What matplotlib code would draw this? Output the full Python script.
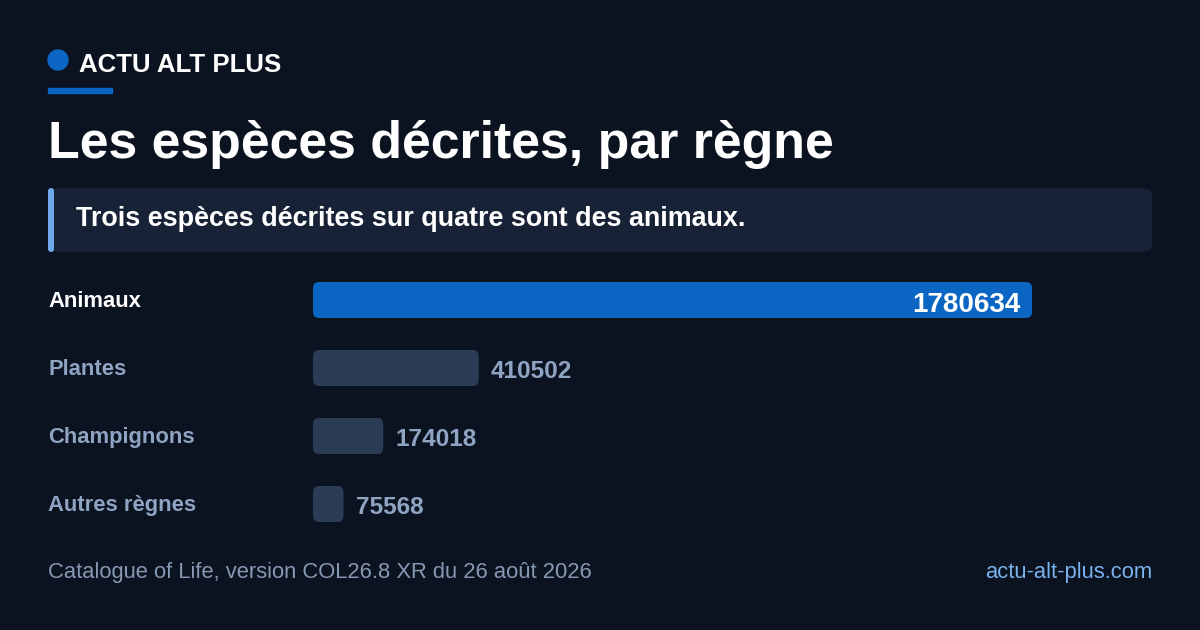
import matplotlib
matplotlib.use("Agg")
import matplotlib.pyplot as plt
from matplotlib.patches import FancyBboxPatch, Circle, Rectangle
from matplotlib.transforms import blended_transform_factory, offset_copy

plt.rcParams['font.family'] = ['Liberation Sans', 'DejaVu Sans']

# data
categories = ["Animaux", "Plantes", "Champignons", "Autres règnes"]
values = [1780634, 410502, 174018, 75568]
highlight = "Animaux"

title = "Les espèces décrites, par règne"
subtitle = "Trois espèces décrites sur quatre sont des animaux."
brand = "ACTU ALT PLUS"
source = "Catalogue of Life, version COL26.8 XR du 26 août 2026"
site = "actu-alt-plus.com"

BG = "#0b1220"
BOX = "#172236"
ACCENT = "#6fa9ec"
BLUE = "#0b66c3"
GREY_BAR = "#2c3c55"
GREY_TXT = "#8ea4c2"
FOOT_TXT = "#8798b2"
LINK = "#7ab2ee"

W, H = 1200, 630
fig = plt.figure(figsize=(12, 6.3), dpi=100, facecolor=BG)

# decoration layer in pixel units
deco = fig.add_axes([0, 0, 1, 1])
deco.set_xlim(0, W)
deco.set_ylim(H, 0)
deco.axis('off')
deco.set_facecolor(BG)

deco.add_patch(Circle((58, 60), 10, color=BLUE))
deco.text(79, 72, brand, color="white", fontsize=18.6, fontweight='bold', va='baseline')
deco.add_patch(Rectangle((48, 88), 64, 5, color=BLUE))
deco.text(48, 158, title, color="white", fontsize=37.4, fontweight='bold', va='baseline')

deco.add_patch(FancyBboxPatch((48, 188), 1104, 64, boxstyle="round,pad=0,rounding_size=9",
                              color=BOX, lw=0))
deco.add_patch(FancyBboxPatch((48, 188), 6, 64, boxstyle="round,pad=0,rounding_size=3",
                              color=ACCENT, lw=0))
deco.text(76, 226, subtitle, color="white", fontsize=19.4, fontweight='bold', va='baseline')

deco.text(48, 578, source, color=FOOT_TXT, fontsize=15.8, va='baseline')
deco.text(1152, 578, site, color=LINK, fontsize=15.8, va='baseline', ha='right')

# bar chart
x0, x1 = 313, 1152
row_h = 68
top = 266
ax = fig.add_axes([x0 / W, (H - (top + row_h * len(categories))) / H,
                   (x1 - x0) / W, row_h * len(categories) / H])
ax.patch.set_alpha(0)
ax.axis('off')
max_w_px = 719
vmax = max(values)
ax.set_xlim(0, vmax * (x1 - x0) / max_w_px)
ax.set_ylim(len(categories) - 0.5, -0.5)

bar_h = 36 / row_h
r_px = 6
r_x = r_px * vmax / max_w_px
aspect = max_w_px / (row_h * vmax)

label_tr = blended_transform_factory(fig.transFigure, ax.transData)

for i, (cat, val) in enumerate(zip(categories, values)):
    hl = cat == highlight
    ax.add_patch(FancyBboxPatch((0, i - bar_h / 2), val, bar_h,
                                boxstyle=f"round,pad=0,rounding_size={r_x}",
                                mutation_aspect=aspect,
                                color=BLUE if hl else GREY_BAR, lw=0))
    ax.text(48 / W, i, cat, transform=offset_copy(label_tr, fig=fig, y=-7.5, units='dots'),
            color="white" if hl else GREY_TXT, fontsize=15.8, fontweight='bold', va='baseline')
    if hl:
        ax.text(val, i, str(val), transform=offset_copy(ax.transData, fig=fig, x=-12, y=-12, units='dots'),
                color="white", fontsize=20, fontweight='bold', ha='right', va='baseline')
    else:
        ax.text(val, i, str(val), transform=offset_copy(ax.transData, fig=fig, x=12, y=-10, units='dots'),
                color=GREY_TXT, fontsize=17.6, fontweight='bold', ha='left', va='baseline')

fig.savefig("out.png", dpi=100, facecolor=BG)
